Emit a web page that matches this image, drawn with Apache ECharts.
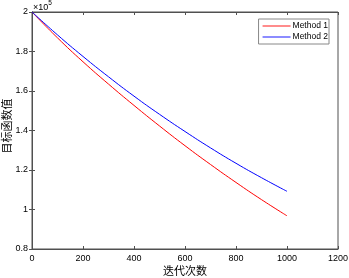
<!DOCTYPE html>
<html><head><meta charset="utf-8">
<script src="https://cdn.jsdelivr.net/npm/echarts@6/dist/echarts.min.js"></script>
<style>html,body{margin:0;padding:0;background:#fff}#c{width:349px;height:278px}</style>
</head><body><div id="c"></div>
<script>
const iterations = [0,100,200,300,400,500,600,700,800,900,1000];
const method1 = [200000,186900,174800,163500,152700,142300,132300,122800,113700,105000,96800];
const method2 = [200000,188400,177500,167200,157400,148200,139500,131200,123400,116100,109200];
const seriesNames = ['Method 1','Method 2'];
const seriesColors = ['#ff0000','#0000ff'];
const xName = '迭代次数';
const yName = '目标函数值';

const axisColor = '#505050';
const font = 'Liberation Sans, Arial, sans-serif';
const cjk = 'Noto Sans CJK SC';
const chart = echarts.init(document.getElementById('c'));
const toPair = (arr) => iterations.map((x,i)=>[x, arr[i]/1e5]);
const tickCommon = {show:true,inside:true,length:3,lineStyle:{color:axisColor}};
chart.setOption({
  animation:false,
  grid:{left:32,right:11,top:12,bottom:29,containLabel:false,outerBoundsMode:'none',
        show:true,borderColor:axisColor,borderWidth:1,backgroundColor:'#fff'},
  legend:{
    data:seriesNames.map((n,i)=>({name:n,icon:'rect',itemStyle:{color:seriesColors[i],borderWidth:0,opacity:0.9}})),
    right:20, top:19, orient:'vertical', itemGap:1,
    itemWidth:28, itemHeight:1,
    backgroundColor:'#fff', borderColor:'#888', borderWidth:1, padding:[2,1,2,4],
    textStyle:{fontFamily:font,fontSize:8.5,color:'#000',padding:[0,0,0,-3],height:10,lineHeight:10}
  },
  xAxis:[{
    type:'value', min:0, max:1200, interval:200,
    axisLine:{show:true,lineStyle:{color:axisColor}},
    axisTick:tickCommon,
    axisLabel:{fontFamily:font,fontSize:9,color:'#000',margin:5,formatter:(v)=>String(v)},
    splitLine:{show:false}
  },{
    type:'value', min:0, max:1200, interval:200, position:'top',
    axisLine:{show:true,lineStyle:{color:axisColor}},
    axisTick:tickCommon, axisLabel:{show:false}, splitLine:{show:false}
  }],
  yAxis:[{
    type:'value', min:0.8, max:2, interval:0.2,
    axisLine:{show:true,lineStyle:{color:axisColor}},
    axisTick:tickCommon,
    axisLabel:{fontFamily:font,fontSize:9,color:'#000',margin:4,
      formatter:(v)=>String(Math.round(v*10)/10)},
    splitLine:{show:false}
  },{
    type:'value', min:0.8, max:2, interval:0.2, position:'right',
    axisLine:{show:true,lineStyle:{color:axisColor}},
    axisTick:tickCommon, axisLabel:{show:false}, splitLine:{show:false}
  }],
  graphic:[{
    type:'text', left:33, top:0,
    style:{text:'{a|×10}{b|5}', rich:{a:{fontFamily:font,fontSize:9,fill:'#000',padding:[3,0,0,0]},b:{fontFamily:font,fontSize:6.5,fill:'#000',verticalAlign:'top'}}}
  },{
    type:'text', x:185, y:271,
    style:{text:xName, fontFamily:cjk, fontSize:11, fill:'#000', align:'center', verticalAlign:'middle'}
  },{
    type:'text', x:7, y:126, rotation:Math.PI/2,
    style:{text:yName, fontFamily:cjk, fontSize:11, fill:'#000', align:'center', verticalAlign:'middle'}
  }],
  series:[
    {name:seriesNames[0],type:'line',data:toPair(method1),smooth:true,showSymbol:false,
     lineStyle:{color:seriesColors[0],width:1},itemStyle:{color:seriesColors[0]}},
    {name:seriesNames[1],type:'line',data:toPair(method2),smooth:true,showSymbol:false,
     lineStyle:{color:seriesColors[1],width:1},itemStyle:{color:seriesColors[1]}}
  ]
});
</script></body></html>
